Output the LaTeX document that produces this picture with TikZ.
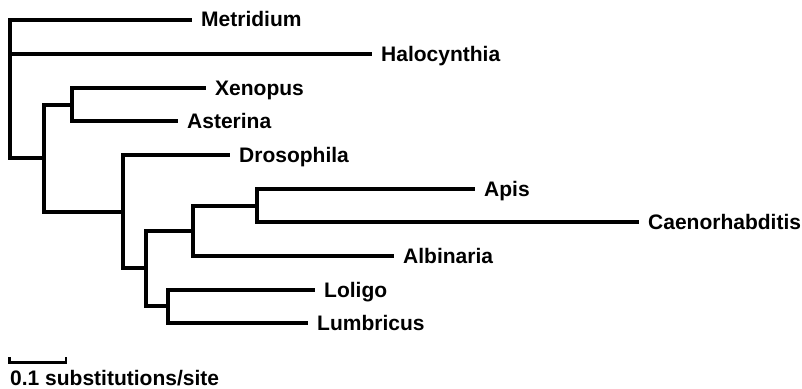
\documentclass[tikz,border=0pt]{standalone}
\usepackage{fontspec}
\setmainfont{Liberation Sans}
\begin{document}
\begin{tikzpicture}[x=1pt,y=-1pt,
  branch/.style={line width=3.3pt,line join=miter,line cap=rect},
  taxon/.style={anchor=base west,inner sep=0pt,font=\fontsize{21}{25}\selectfont\bfseries},
  scalebar/.style={line width=2.6pt,line join=miter}]
\useasboundingbox (0,0) rectangle (802,388);
% internal nodes
\coordinate (root) at (10,89);
\coordinate (A) at (44,158);
\coordinate (B) at (72,105);
\coordinate (C) at (123,212);
\coordinate (D) at (146,268);
\coordinate (E) at (193,231);
\coordinate (F) at (257,206);
\coordinate (G) at (168,306);
% leaf tips
\coordinate (tMet) at (190,20);
\coordinate (tHal) at (370,54);
\coordinate (tXen) at (204,88);
\coordinate (tAst) at (176,121);
\coordinate (tDro) at (228,155);
\coordinate (tApi) at (473,189);
\coordinate (tCae) at (637,222);
\coordinate (tAlb) at (392,256);
\coordinate (tLol) at (313,290);
\coordinate (tLum) at (306,323);
% labels
\node[taxon] (lMet) at ([xshift=11pt,yshift=-7pt]tMet) {Metridium};
\node[taxon] (lHal) at ([xshift=11pt,yshift=-7pt]tHal) {Halocynthia};
\node[taxon] (lXen) at ([xshift=11pt,yshift=-7pt]tXen) {Xenopus};
\node[taxon] (lAst) at ([xshift=11pt,yshift=-7pt]tAst) {Asterina};
\node[taxon] (lDro) at ([xshift=11pt,yshift=-7pt]tDro) {Drosophila};
\node[taxon] (lApi) at ([xshift=11pt,yshift=-7pt]tApi) {Apis};
\node[taxon] (lCae) at ([xshift=11pt,yshift=-7pt]tCae) {Caenorhabditis};
\node[taxon] (lAlb) at ([xshift=11pt,yshift=-7pt]tAlb) {Albinaria};
\node[taxon] (lLol) at ([xshift=11pt,yshift=-7pt]tLol) {Loligo};
\node[taxon] (lLum) at ([xshift=11pt,yshift=-7pt]tLum) {Lumbricus};
% branches
\draw[branch] (root) |- (tMet);
\draw[branch] (root) |- (tHal);
\draw[branch] (root) |- (A);
\draw[branch] (A) |- (B);
\draw[branch] (A) |- (C);
\draw[branch] (B) |- (tXen);
\draw[branch] (B) |- (tAst);
\draw[branch] (C) |- (tDro);
\draw[branch] (C) |- (D);
\draw[branch] (D) |- (E);
\draw[branch] (D) |- (G);
\draw[branch] (E) |- (F);
\draw[branch] (E) |- (tAlb);
\draw[branch] (F) |- (tApi);
\draw[branch] (F) |- (tCae);
\draw[branch] (G) |- (tLol);
\draw[branch] (G) |- (tLum);
% scale bar
\coordinate (sb1) at (9.5,357);
\coordinate (sb2) at (66,357);
\draw[scalebar] (sb1) -- ++(0,5.5) -| (sb2);
\node[taxon] (sbl) at (10,385) {0.1 substitutions/site};
\end{tikzpicture}
\end{document}
